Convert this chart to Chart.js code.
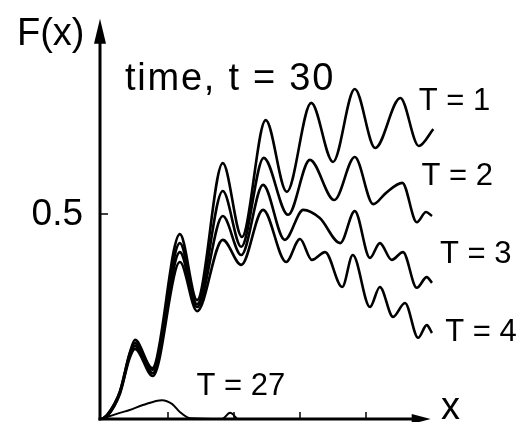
<!DOCTYPE html>
<html>
<head>
<meta charset="utf-8">
<script src="https://cdn.jsdelivr.net/npm/chart.js@4/dist/chart.umd.min.js"></script>
<style>
  html, body { margin: 0; padding: 0; background: #fff; }
  #wrap { width: 526px; height: 422px; position: relative; }
</style>
</head>
<body>
<div id="wrap"><canvas id="c" width="526" height="422"></canvas></div>
<script>
// Values (x in axis units, ticks at 1..4; y = F(x))
const T1x = [0, 0.08, 0.27, 0.42, 0.5, 0.76, 1.18, 1.44, 1.83, 2.12, 2.48, 2.8, 3.17, 3.5, 3.83, 4.14, 4.52, 4.8, 5.02];
const T1y = [0, 0.01, 0.066, 0.161, 0.193, 0.124, 0.451, 0.29, 0.624, 0.444, 0.729, 0.554, 0.771, 0.627, 0.805, 0.661, 0.783, 0.666, 0.707];

const T2x = [0, 0.08, 0.27, 0.42, 0.5, 0.77, 1.18, 1.44, 1.83, 2.11, 2.45, 2.82, 3.15, 3.52, 3.83, 4.11, 4.3, 4.55, 4.77, 4.91, 5.0];
const T2y = [0, 0.01, 0.066, 0.159, 0.185, 0.12, 0.429, 0.28, 0.556, 0.42, 0.637, 0.498, 0.632, 0.534, 0.639, 0.524, 0.551, 0.576, 0.48, 0.505, 0.495];

const T3x = [0, 0.08, 0.27, 0.42, 0.5, 0.77, 1.18, 1.44, 1.83, 2.11, 2.44, 2.77, 3.05, 3.3, 3.61, 3.83, 4.06, 4.21, 4.39, 4.56, 4.77, 4.92, 5.0];
const T3y = [0, 0.007, 0.063, 0.154, 0.178, 0.112, 0.407, 0.273, 0.495, 0.4, 0.571, 0.437, 0.51, 0.49, 0.429, 0.507, 0.393, 0.429, 0.388, 0.407, 0.32, 0.346, 0.332];

const T4x = [0, 0.08, 0.27, 0.42, 0.5, 0.77, 1.18, 1.44, 1.83, 2.11, 2.44, 2.79, 3.0, 3.18, 3.38, 3.64, 3.8, 4.06, 4.21, 4.41, 4.59, 4.79, 4.92, 5.0];
const T4y = [0, 0.007, 0.061, 0.149, 0.171, 0.105, 0.383, 0.263, 0.437, 0.376, 0.51, 0.383, 0.439, 0.388, 0.407, 0.322, 0.4, 0.273, 0.322, 0.249, 0.283, 0.198, 0.229, 0.21];

const T27x = [0, 0.12, 0.27, 0.42, 0.62, 0.91, 1.06, 1.18, 1.33, 1.82, 1.94, 2.05];
const T27y = [0, 0.007, 0.015, 0.022, 0.034, 0.046, 0.037, 0.017, 0.002, 0, 0.015, 0];

const xTicks = [1, 2, 3, 4];
const yTicks = [0.5];
const yTickLabels = ["0.5"];

const seriesLabels = ["T = 1", "T = 2", "T = 3", "T = 4", "T = 27"];
// label anchor (in data units) for each series label
const seriesLabelPos = [[4.8, 0.753], [4.84, 0.57], [5.12, 0.381], [5.2, 0.19], [1.43, 0.058]];

function pts(xs, ys) { return xs.map((x, i) => ({ x: x, y: ys[i] })); }

const allX = [T1x, T2x, T3x, T4x, T27x];
const allY = [T1y, T2y, T3y, T4y, T27y];

const datasets = allX.map((xs, i) => ({
  label: seriesLabels[i],
  data: pts(xs, allY[i]),
  borderColor: '#000',
  borderWidth: i === 4 ? 2 : 2.6,
  pointRadius: 0,
  fill: false,
  cubicInterpolationMode: 'monotone',
  clip: false
}));

function spacedText(ctx, text, x, y, targetWidth) {
  const w = ctx.measureText(text).width;
  if ('letterSpacing' in ctx) {
    ctx.letterSpacing = ((targetWidth - w) / text.length).toFixed(2) + 'px';
    ctx.fillText(text, x, y);
    ctx.letterSpacing = '0px';
  } else {
    ctx.save();
    ctx.translate(x, y);
    ctx.scale(targetWidth / w, 1);
    ctx.fillText(text, 0, 0);
    ctx.restore();
  }
}

const decor = {
  id: 'decor',
  beforeDraw(chart) {
    const ctx = chart.ctx;
    ctx.save();
    ctx.fillStyle = '#fff';
    ctx.fillRect(0, 0, chart.width, chart.height);
    ctx.restore();
  },
  afterDraw(chart) {
    const ctx = chart.ctx;
    const xs = chart.scales.x, ys = chart.scales.y;
    const x0 = xs.getPixelForValue(0) - 2;
    const y0 = ys.getPixelForValue(0);
    const yTop = ys.getPixelForValue(0.976);
    const xEnd = xs.getPixelForValue(4.98);
    ctx.save();
    ctx.strokeStyle = '#000';
    ctx.fillStyle = '#000';
    ctx.lineWidth = 3;
    // y axis
    ctx.beginPath();
    ctx.moveTo(x0, y0 + 1.5);
    ctx.lineTo(x0, yTop + 14);
    ctx.stroke();
    ctx.beginPath();
    ctx.moveTo(x0, yTop);
    ctx.lineTo(x0 - 6, yTop + 25);
    ctx.lineTo(x0 + 6, yTop + 25);
    ctx.closePath();
    ctx.fill();
    // x axis
    ctx.beginPath();
    ctx.moveTo(x0 - 1.5, y0);
    ctx.lineTo(xEnd - 14, y0);
    ctx.stroke();
    ctx.beginPath();
    ctx.moveTo(xEnd, y0);
    ctx.lineTo(xEnd - 19, y0 - 5);
    ctx.lineTo(xEnd - 19, y0 + 5);
    ctx.closePath();
    ctx.fill();
    // ticks
    ctx.lineWidth = 1.5;
    xTicks.forEach(t => {
      const px = xs.getPixelForValue(t);
      ctx.beginPath();
      ctx.moveTo(px, y0);
      ctx.lineTo(px, y0 - 7);
      ctx.stroke();
    });
    ctx.textBaseline = 'middle';
    ctx.textAlign = 'right';
    ctx.font = '37px "Liberation Sans", Arial, sans-serif';
    yTicks.forEach((t, i) => {
      const py = ys.getPixelForValue(t);
      ctx.beginPath();
      ctx.moveTo(x0, py);
      ctx.lineTo(x0 + 8, py);
      ctx.stroke();
      ctx.fillText(yTickLabels[i], x0 - 17, py + 1);
    });
    // titles
    ctx.textBaseline = 'alphabetic';
    ctx.textAlign = 'left';
    ctx.font = '38px "Liberation Sans", Arial, sans-serif';
    ctx.fillText('F(x)', 17, 45);
    ctx.fillText('x', 441, 419);
    spacedText(ctx, 'time, t = 30', 125, 90, 210);
    // series labels
    ctx.font = '31px "Liberation Sans", Arial, sans-serif';
    seriesLabels.forEach((s, i) => {
      const p = seriesLabelPos[i];
      ctx.fillText(s, xs.getPixelForValue(p[0]), ys.getPixelForValue(p[1]));
    });
    ctx.restore();
  }
};

new Chart(document.getElementById('c'), {
  type: 'line',
  data: { datasets: datasets },
  options: {
    responsive: false,
    animation: false,
    events: [],
    layout: { padding: { left: 102, right: 87.4, top: 29.5, bottom: 3 } },
    plugins: { legend: { display: false }, tooltip: { enabled: false } },
    scales: {
      x: { type: 'linear', min: 0, max: 5.1, display: false },
      y: { type: 'linear', min: 0, max: 0.95, display: false }
    }
  },
  plugins: [decor]
});
</script>
</body>
</html>
